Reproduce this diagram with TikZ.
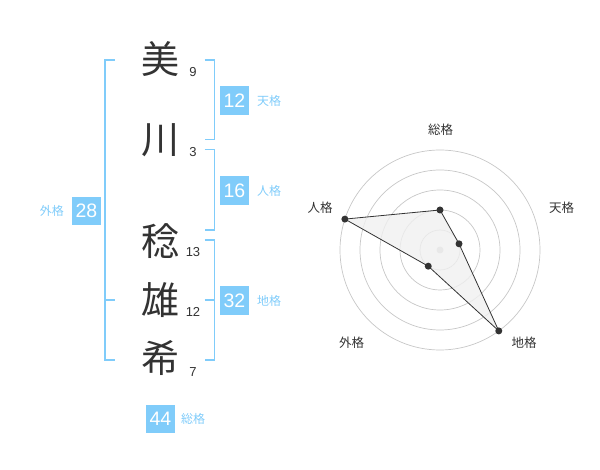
\documentclass[tikz,border=0pt]{standalone}
\usepackage{fontspec}
\setmainfont{Liberation Sans}
\newfontfamily\jp{Noto Sans CJK JP}
\usetikzlibrary{positioning}
\definecolor{kaku}{RGB}{128,204,250}
\definecolor{ink}{RGB}{51,51,51}

\begin{document}
\begin{tikzpicture}[x=1pt,y=-1pt,
  kanji/.style={font=\jp\fontsize{38}{38}\selectfont,text=ink,inner sep=0pt},
  strokes/.style={font=\fontsize{13}{13}\selectfont,text=ink,inner sep=0pt},
  kakubox/.style={fill=kaku,text=white,font=\fontsize{19.5}{19.5}\selectfont,minimum width=28.5pt,minimum height=28.5pt,inner sep=0pt},
  kakulabel/.style={text=kaku,font=\jp\fontsize{12}{12}\selectfont,inner sep=0pt},
  bracket/.style={draw=kaku,line width=1.8pt},
  radarlabel/.style={text=ink,font=\jp\fontsize{12.5}{12.5}\selectfont,inner sep=0pt},
  ring/.style={draw=black!22,line width=0.7pt},
  dot/.style={circle,fill=ink,inner sep=0pt,minimum size=7pt}]
  \useasboundingbox (0,0) rectangle (600,470);
  \def\cx{440};
  \def\cy{250};
  \def\bl{105};
  \def\br{214.5};
  \def\t{10};
  % name
  \node[kanji] (mi) at (160.8,59.5) {美};
  \node[kanji] (kawa) at (160.8,140) {川};
  \node[kanji] (nen) at (160.8,241.5) {稔};
  \node[kanji] (o) at (160.8,300) {雄};
  \node[kanji] (ki) at (160.8,358) {希};
  \node[strokes] (n1) at (193,72.5) {9};
  \node[strokes] (n2) at (193,152.5) {3};
  \node[strokes] (n3) at (193,252) {13};
  \node[strokes] (n4) at (193,312) {12};
  \node[strokes] (n5) at (193,372) {7};
  % brackets
  \draw[bracket] (\bl+\t,60)--++(-\t,0)--++(0,300)--++(\t,0);
  \draw[bracket] (\bl,300)--++(\t,0);
  \draw[bracket] (\br-\t,60)--++(\t,0)--++(0,79.5)--++(-\t,0);
  \draw[bracket] (\br-\t,149.5)--++(\t,0)--++(0,80.5)--++(-\t,0);
  \draw[bracket] (\br-\t,240)--++(\t,0)--++(0,120)--++(-\t,0);
  \draw[bracket] (\br-\t,300)--++(\t,0);
  % kaku
  \node[kakubox] (ten) at (234.5,100.5) {12};
  \node[kakulabel,right=8pt of ten] (tenl) {天格};
  \node[kakubox] (jin) at (234.5,190.5) {16};
  \node[kakulabel,right=8pt of jin] (jinl) {人格};
  \node[kakubox] (chi) at (234.5,300.5) {32};
  \node[kakulabel,right=8pt of chi] (chil) {地格};
  \node[kakubox] (gai) at (86.5,211) {28};
  \node[kakulabel,left=8pt of gai] (gail) {外格};
  \node[kakubox] (sou) at (160.5,419) {44};
  \node[kakulabel,right=6pt of sou] (soul) {総格};
  % radar
  \foreach \r in {20,40,60,80,100}
    \draw[ring] (\cx,\cy) circle (\r);
  \fill[black!20] (\cx,\cy) circle (3.5);
  \begin{scope}[shift={(\cx,\cy)},yscale=-1]
    \coordinate (psou) at (90:40);
    \coordinate (pten) at (18:20);
    \coordinate (pchi) at (-54:100);
    \coordinate (pgai) at (-126:20);
    \coordinate (pjin) at (162:100);
  \end{scope}
  \fill[black!6,opacity=0.8] (psou)--(pten)--(pchi)--(pgai)--(pjin)--cycle;
  \draw[ink,line width=0.8pt] (psou)--(pten)--(pchi)--(pgai)--(pjin)--cycle;
  \foreach \p in {psou,pten,pchi,pgai,pjin}
    \node[dot] at (\p) {};
  \node[radarlabel] (lsou) at (440.7,130) {総格};
  \node[radarlabel] (lten) at (561.7,208) {天格};
  \node[radarlabel] (ljin) at (320,208) {人格};
  \node[radarlabel] (lgai) at (351.7,342.7) {外格};
  \node[radarlabel] (lchi) at (524,342.7) {地格};
\end{tikzpicture}
\end{document}
